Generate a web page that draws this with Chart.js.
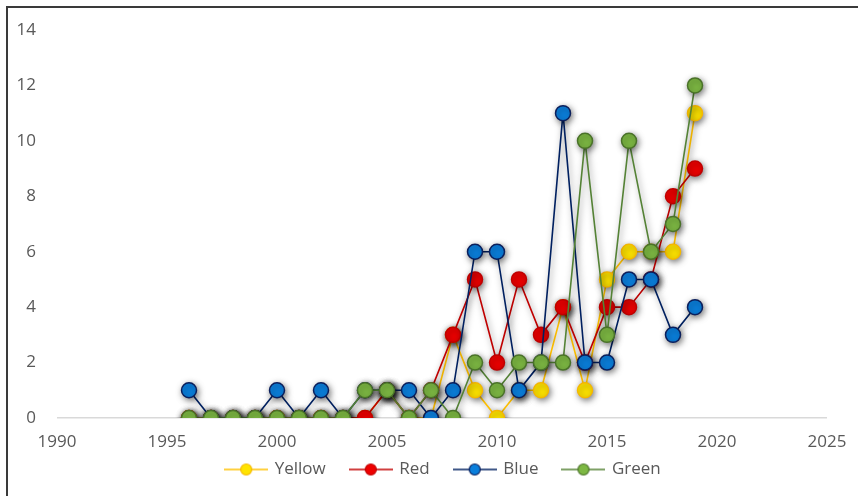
<!DOCTYPE html>
<html>
<head>
<meta charset="utf-8">
<script src="https://cdn.jsdelivr.net/npm/chart.js@4/dist/chart.umd.min.js"></script>
<style>
  html, body { margin: 0; padding: 0; background: #ffffff; }
  #wrap { position: relative; width: 858px; height: 496px; }
</style>
</head>
<body>
<div id="wrap"><canvas id="chart" width="858" height="496"></canvas></div>
<script>
// Years observed and the count recorded for each series
const years  = [1996, 1997, 1998, 1999, 2000, 2001, 2002, 2003, 2004, 2005, 2006, 2007,
                2008, 2009, 2010, 2011, 2012, 2013, 2014, 2015, 2016, 2017, 2018, 2019];
const yellow = [0, 0, 0, 0, 0, 0, 0, 0, 0, 1, 0, 0, 3, 1, 0, 1, 1, 4, 1, 5, 6, 6, 6, 11];
const red    = [0, 0, 0, 0, 0, 0, 0, 0, 0, 1, 0, 1, 3, 5, 2, 5, 3, 4, 2, 4, 4, 5, 8, 9];
const blue   = [1, 0, 0, 0, 1, 0, 1, 0, 1, 1, 1, 0, 1, 6, 6, 1, 2, 11, 2, 2, 5, 5, 3, 4];
const green  = [0, 0, 0, 0, 0, 0, 0, 0, 1, 1, 0, 1, 0, 2, 1, 2, 2, 2, 10, 3, 10, 6, 7, 12];

const seriesNames = ['Yellow', 'Red', 'Blue', 'Green'];
const xTicks = [1990, 1995, 2000, 2005, 2010, 2015, 2020, 2025];
const yTicks = [0, 2, 4, 6, 8, 10, 12, 14];

const styles = [
  { line: '#FFC000', fill: '#FFE400', edge: '#F5B800', order: 3 },
  { line: '#C00000', fill: '#EE0000', edge: '#C00000', order: 2 },
  { line: '#002060', fill: '#0A7FDC', edge: '#0B1F5C', order: 1 },
  { line: '#548235', fill: '#7DB843', edge: '#4A7229', order: 0 }
];
const values = [yellow, red, blue, green];

const toPoints = arr => years.map((yr, i) => ({ x: yr, y: arr[i] }));

// Small line-and-marker swatch used as the legend symbol
function swatch(s) {
  const c = document.createElement('canvas');
  c.width = 44; c.height = 14;
  const g = c.getContext('2d');
  g.strokeStyle = s.line; g.lineWidth = 1.5;
  g.beginPath(); g.moveTo(0, 7); g.lineTo(44, 7); g.stroke();
  g.beginPath(); g.arc(22, 7, 5.5, 0, Math.PI * 2);
  g.fillStyle = s.fill; g.fill();
  g.strokeStyle = s.edge; g.lineWidth = 1.2; g.stroke();
  return c;
}

const datasets = seriesNames.map((name, i) => ({
  label: name,
  data: toPoints(values[i]),
  borderColor: styles[i].line,
  borderWidth: 1.6,
  pointRadius: 7.5,
  pointHoverRadius: 7.5,
  pointBackgroundColor: styles[i].fill,
  pointBorderColor: styles[i].edge,
  pointBorderWidth: 1.5,
  tension: 0,
  order: styles[i].order
}));

// Soft drop shadow under the lines and markers
const shadowPlugin = {
  id: 'seriesShadow',
  beforeDatasetsDraw(chart) {
    const ctx = chart.ctx;
    ctx.save();
    ctx.shadowColor = 'rgba(0,0,0,0.5)';
    ctx.shadowBlur = 6;
    ctx.shadowOffsetX = 1.5;
    ctx.shadowOffsetY = 2;
  },
  afterDatasetsDraw(chart) {
    chart.ctx.restore();
  }
};

// Outer frame around the chart
const framePlugin = {
  id: 'frame',
  beforeDraw(chart) {
    const ctx = chart.ctx;
    ctx.save();
    ctx.fillStyle = '#ffffff';
    ctx.fillRect(0, 0, chart.width, chart.height);
    ctx.strokeStyle = '#3a3a3a';
    ctx.lineWidth = 2;
    ctx.strokeRect(7, 7, chart.width + 20, chart.height + 20);
    ctx.restore();
  }
};

// Nudge the legend row right and give the year labels room below the axis
const layoutTweaks = {
  id: 'layoutTweaks',
  afterLayout(chart) {
    if (chart.legend) {
      chart.legend.left += 30;
      chart.legend.right += 30;
    }
    const xs = chart.scales.x;
    if (xs) xs.bottom += 30;
  }
};

const textColor = '#595959';
const fontFamily = "'Open Sans', 'Liberation Sans', sans-serif";

new Chart(document.getElementById('chart'), {
  type: 'line',
  data: { datasets },
  plugins: [framePlugin, shadowPlugin, layoutTweaks],
  options: {
    responsive: false,
    animation: false,
    devicePixelRatio: 1,
    layout: { padding: { top: 30, right: 31, bottom: 8, left: 0 } },
    plugins: {
      tooltip: { enabled: false },
      legend: {
        position: 'bottom',
        labels: {
          color: textColor,
          font: { family: fontFamily, size: 17 },
          usePointStyle: true,
          pointStyleWidth: 40,
          boxHeight: 14,
          padding: 25,
          generateLabels(chart) {
            return chart.data.datasets.map((ds, i) => ({
              text: ds.label,
              pointStyle: swatch(styles[i]),
              fillStyle: styles[i].fill,
              strokeStyle: styles[i].line,
              lineWidth: 0,
              fontColor: textColor,
              hidden: false,
              datasetIndex: i
            }));
          }
        }
      }
    },
    scales: {
      x: {
        type: 'linear',
        min: xTicks[0],
        max: xTicks[xTicks.length - 1],
        afterBuildTicks(scale) { scale.ticks = xTicks.map(v => ({ value: v })); },
        ticks: {
          color: textColor,
          font: { family: fontFamily, size: 17 },
          padding: 14,
          maxRotation: 0,
          callback: v => String(v)
        },
        grid: { display: false, drawTicks: false },
        border: { display: false },
        afterFit(scale) {
          scale.height = 18;
          scale.paddingLeft = 2;
          scale.paddingRight = 2;
        }
      },
      y: {
        min: yTicks[0],
        max: yTicks[yTicks.length - 1],
        afterBuildTicks(scale) { scale.ticks = yTicks.map(v => ({ value: v })); },
        ticks: {
          color: textColor,
          font: { family: fontFamily, size: 17 },
          padding: 21
        },
        grid: {
          drawTicks: false,
          lineWidth: 1.5,
          color: c => (c.tick && c.tick.value === 0 ? '#d9d9d9' : 'rgba(0,0,0,0)')
        },
        border: { display: false },
        afterFit(scale) {
          scale.width = 57;
          scale.paddingTop = 2;
          scale.paddingBottom = 2;
        }
      }
    }
  }
});
</script>
</body>
</html>
